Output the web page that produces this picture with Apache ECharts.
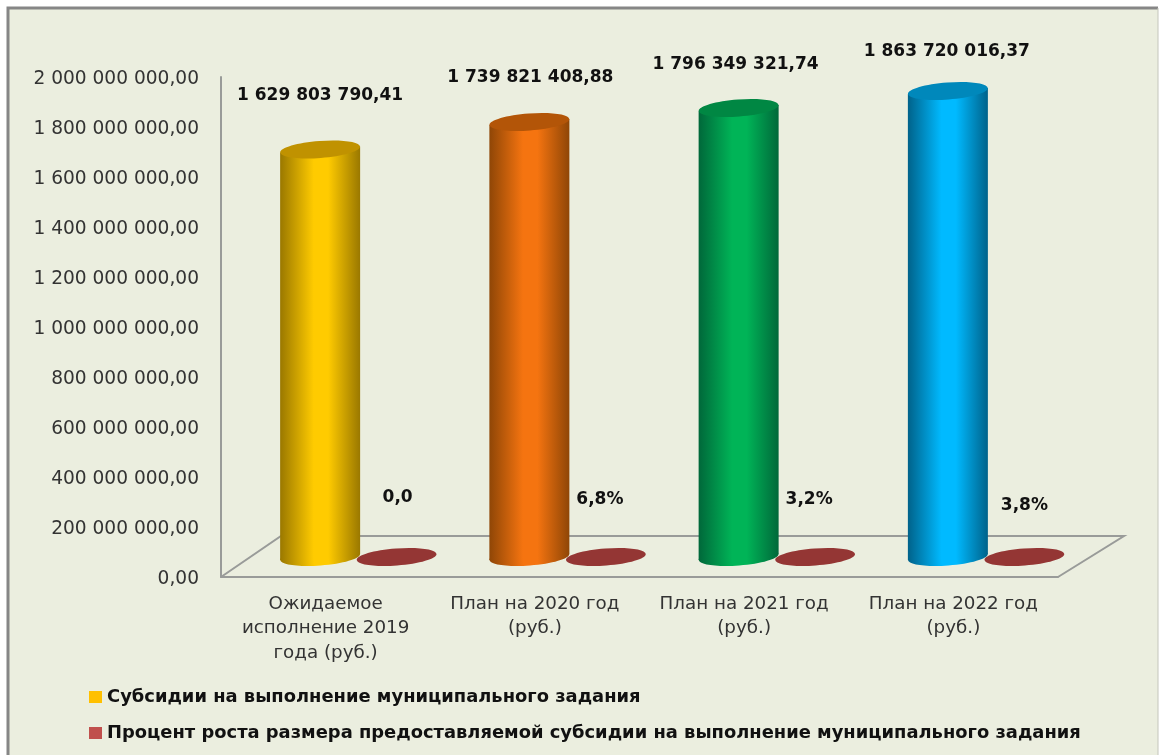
<!DOCTYPE html>
<html lang="en">

<head>
  <meta charset="utf-8">
  <script src="https://cdn.jsdelivr.net/npm/echarts@6/dist/echarts.min.js"></script>
  <style>
    html, body { margin: 0; padding: 0; background: #fff; }
  </style>
</head>

<body>
  <div id="chart" style="width: 1160px;height:755px;"></div>

  <script type="text/javascript">

    const categories = ['Ожидаемое\nисполнение 2019\nгода (руб.)', 'План на 2020 год\n(руб.)', 'План на 2021 год\n(руб.)', 'План на 2022 год\n(руб.)'];
    const subsidyName = 'Субсидии на выполнение муниципального задания';
    const growthName = 'Процент роста размера предоставляемой субсидии на выполнение муниципального задания';
    const subsidyValues = [1629803790.41, 1739821408.88, 1796349321.74, 1863720016.37];
    const subsidyLabels = ['1 629 803 790,41', '1 739 821 408,88', '1 796 349 321,74', '1 863 720 016,37'];
    const growthValues = [0, 6.8, 3.2, 3.8];
    const growthLabels = ['0,0', '6,8%', '3,2%', '3,8%'];

    // edge / middle / lid colour of every cylinder
    const subsidyColors = [
        ['#9a7800', '#ffcb00', '#c09200'],
        ['#8f4606', '#f57410', '#b35508'],
        ['#00683a', '#00b457', '#008743'],
        ['#00628a', '#00baff', '#0088bb']
    ];
    const growthColors = ['#943634', '#943634', '#943634'];

    // hand-moved data labels of the original, dx / dy from the top of the mark
    const subsidyNudge = [[0, -54], [1, -44], [-3, -43], [-1, -39]];
    const growthNudge = [[1, -59], [-6, -57], [-6, -57], [0, -51]];

    const FONT = '"DejaVu Sans", sans-serif';
    const DEPTH_Y = 20;
    const RX = 40;
    const RY = 8.5;
    const TILT = 0.075;

    function cylinder(api, dx, colors, label, nudge) {
        const i = api.value(0);
        const top = api.coord([i, api.value(1)]);
        const base = api.coord([i, 0]);
        const cx = top[0] + dx;
        const topY = top[1] - DEPTH_Y;
        const baseY = base[1] - DEPTH_Y;
        const lean = RX * TILT;
        const fill = new echarts.graphic.LinearGradient(0, 0, 1, 0, [
            {offset: 0, color: colors[0]},
            {offset: 0.42, color: colors[1]},
            {offset: 0.6, color: colors[1]},
            {offset: 1, color: colors[0]}
        ]);
        const children = [];
        if (baseY - topY > 1) {
            children.push({
                type: 'ellipse',
                shape: {cx: cx, cy: baseY, rx: RX, ry: RY},
                rotation: TILT, originX: cx, originY: baseY,
                style: {fill: fill}
            });
            children.push({
                type: 'polygon',
                shape: {points: [[cx - RX, topY + lean], [cx + RX, topY - lean], [cx + RX, baseY - lean], [cx - RX, baseY + lean]]},
                style: {fill: fill}
            });
        }
        children.push({
            type: 'ellipse',
            shape: {cx: cx, cy: topY, rx: RX, ry: RY},
            rotation: TILT, originX: cx, originY: topY,
            style: {fill: colors[2]}
        });
        children.push({
            type: 'text',
            style: {
                text: label, x: cx + nudge[0], y: topY + nudge[1],
                align: 'center', verticalAlign: 'middle',
                font: 'bold 17px ' + FONT, fill: '#111'
            }
        });
        return {type: 'group', children: children};
    }

    function renderFloor(params) {
        const s = params.coordSys;
        const bottom = s.y + s.height;
        return {
            type: 'polyline',
            shape: {points: [[s.x, bottom], [s.x + 60, bottom - 41], [s.x + s.width + 66, bottom - 41], [s.x + s.width, bottom]]},
            style: {fill: null, stroke: '#999b99', lineWidth: 2}
        };
    }

    const chart = echarts.init(document.getElementById('chart'));

    const option = {
        animation: false,
        backgroundColor: '#fff',
        graphic: [
            {type: 'rect', z: -10, shape: {x: 8, y: 8, width: 1150, height: 760}, style: {fill: '#ebeedf'}},
            {type: 'polyline', z: -9, shape: {points: [[8, 760], [8, 8], [1158, 8]]}, style: {fill: null, stroke: '#868686', lineWidth: 3}},
            {type: 'line', z: -9, shape: {x1: 1158, y1: 8, x2: 1158, y2: 760}, style: {stroke: '#c4c6bc', lineWidth: 1}}
        ],
        grid: {left: 221, right: 102, top: 77, bottom: 178},
        legend: {
            data: [subsidyName, growthName],
            orient: 'vertical',
            left: 84,
            top: 683,
            itemWidth: 13,
            itemHeight: 12,
            itemGap: 18,
            icon: 'rect',
            textStyle: {fontFamily: FONT, fontWeight: 'bold', fontSize: 17.9, color: '#111'}
        },
        xAxis: {
            type: 'category',
            data: categories,
            axisTick: {show: false},
            axisLine: {lineStyle: {color: '#999b99', width: 2}},
            axisLabel: {fontFamily: FONT, fontSize: 18.3, color: '#333', lineHeight: 24.5, margin: 15, interval: 0}
        },
        yAxis: {
            type: 'value',
            min: 0,
            max: 2000000000,
            interval: 200000000,
            splitLine: {show: false},
            axisTick: {show: false},
            axisLine: {show: true, lineStyle: {color: '#999b99', width: 2}},
            axisLabel: {
                fontFamily: FONT, fontSize: 18.6, color: '#333', margin: 22,
                verticalAlign: 'top', lineHeight: 4,
                formatter: function (v) {
                    return v.toFixed(0).replace(/\B(?=(\d{3})+$)/g, ' ') + ',00';
                }
            }
        },
        series: [
            {
                name: 'floor',
                type: 'custom',
                z: 1,
                silent: true,
                data: [[0, 0]],
                renderItem: renderFloor
            },
            {
                name: subsidyName,
                type: 'custom',
                z: 2,
                itemStyle: {color: '#ffc000'},
                encode: {x: 0, y: 1},
                data: subsidyValues.map(function (v, i) { return [i, v]; }),
                renderItem: function (params, api) {
                    const i = params.dataIndex;
                    return cylinder(api, -5.5, subsidyColors[i], subsidyLabels[i], subsidyNudge[i]);
                }
            },
            {
                name: growthName,
                type: 'custom',
                z: 3,
                itemStyle: {color: '#c0504d'},
                encode: {x: 0, y: 1},
                data: growthValues.map(function (v, i) { return [i, v]; }),
                renderItem: function (params, api) {
                    const i = params.dataIndex;
                    return cylinder(api, 71, growthColors, growthLabels[i], growthNudge[i]);
                }
            }
        ]
    };

    chart.setOption(option);
  </script>
</body>

</html>
